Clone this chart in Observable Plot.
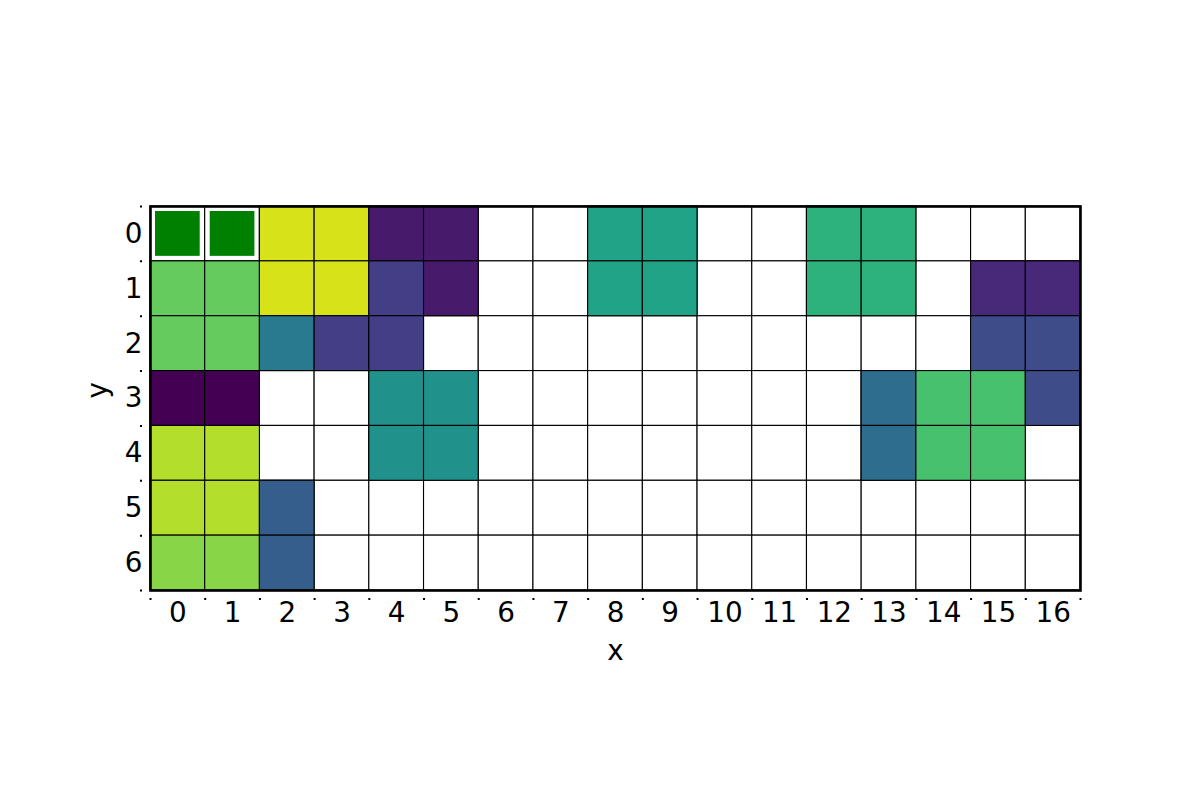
<!DOCTYPE html>
<html><head><meta charset="utf-8">
<script src="https://cdn.jsdelivr.net/npm/d3@7"></script>
<script src="https://cdn.jsdelivr.net/npm/@observablehq/plot@0.6"></script>
<style>html,body{margin:0;padding:0;background:#fff;} svg{display:block;}</style>
</head><body><div id="chart"></div>
<script>
// tick labels
const xLabels = [0,1,2,3,4,5,6,7,8,9,10,11,12,13,14,15,16];
const yLabels = [0,1,2,3,4,5,6];
// cell boundaries (where the small tick dots sit)
const xBounds = [-0.5,0.5,1.5,2.5,3.5,4.5,5.5,6.5,7.5,8.5,9.5,10.5,11.5,12.5,13.5,14.5,15.5,16.5];
const yBounds = [-0.5,0.5,1.5,2.5,3.5,4.5,5.5,6.5];
// piece ids and their colours
const pieceIds = ["0","1","2","3","4","5","6","7","8","9","10","11","12","13","14","15"];
const pieceColors = ["#440154","#481a6c","#482878","#433e85","#3e4c8a","#355e8d","#2e6d8e","#297a8e",
                     "#21918c","#20a386","#2db27d","#48c16e","#65cb5e","#89d548","#b4de2c","#d8e219"];
// grid: "." empty, "G" highlighted cell
const gridRows = [
  "G G 15 15 1 1 . . 9 9 . . 10 10 . . .",
  "12 12 15 15 3 1 . . 9 9 . . 10 10 . 2 2",
  "12 12 7 3 3 . . . . . . . . . . 4 4",
  "0 0 . . 8 8 . . . . . . . 6 11 11 4",
  "14 14 . . 8 8 . . . . . . . 6 11 11 .",
  "14 14 5 . . . . . . . . . . . . . .",
  "13 13 5 . . . . . . . . . . . . . ."
];

const cells = [];
gridRows.forEach((row, y) => row.split(" ").forEach((v, x) => cells.push({x, y, v})));
const colored = cells.filter(d => d.v !== "." && d.v !== "G");
const special = cells.filter(d => d.v === "G");

const box = {x1: d => d.x - 0.5, x2: d => d.x + 0.5, y1: d => d.y - 0.5, y2: d => d.y + 0.5};
const FS = 27.8;

const chart = Plot.plot({
  width: 1200, height: 800,
  marginLeft: 150, marginRight: 120, marginTop: 206, marginBottom: 210,
  style: {fontFamily: "DejaVu Sans", fontSize: FS + "px", background: "white", color: "black"},
  x: {domain: [-0.5, 16.5], axis: null},
  y: {domain: [-0.5, 6.5], reverse: true, axis: null},
  color: {domain: pieceIds, range: pieceColors},
  marks: [
    Plot.rect(cells, {...box, fill: "white", stroke: "black", strokeWidth: 1.1}),
    Plot.rect(colored, {...box, fill: "v", stroke: "black", strokeWidth: 1.1}),
    Plot.rect(special, {...box, fill: "#008000", inset: 5}),
    Plot.frame({stroke: "black", strokeWidth: 2.6}),
    Plot.axisX({ticks: xLabels, tickSize: 0, tickPadding: 12, tickFormat: d => String(d), label: null, fontSize: FS, fill: "black"}),
    Plot.axisX({ticks: xBounds, tickSize: 11, text: null, label: null, stroke: "black", strokeWidth: 2, strokeDasharray: "0 8 2 100"}),
    Plot.axisY({ticks: yLabels, tickSize: 0, tickPadding: 8, tickFormat: d => String(d), label: null, fontSize: FS, fill: "black"}),
    Plot.axisY({ticks: yBounds, tickSize: 11, text: null, label: null, stroke: "black", strokeWidth: 2, strokeDasharray: "0 8 2 100"}),
    Plot.text(["x"], {text: d => d, frameAnchor: "bottom", lineAnchor: "middle", dy: 61, fontSize: FS, fill: "black"}),
    Plot.text(["y"], {text: d => d, frameAnchor: "left", lineAnchor: "middle", dx: -52, rotate: -90, fontSize: FS, fill: "black"})
  ]
});
document.getElementById("chart").appendChild(chart);
</script>
</body></html>
